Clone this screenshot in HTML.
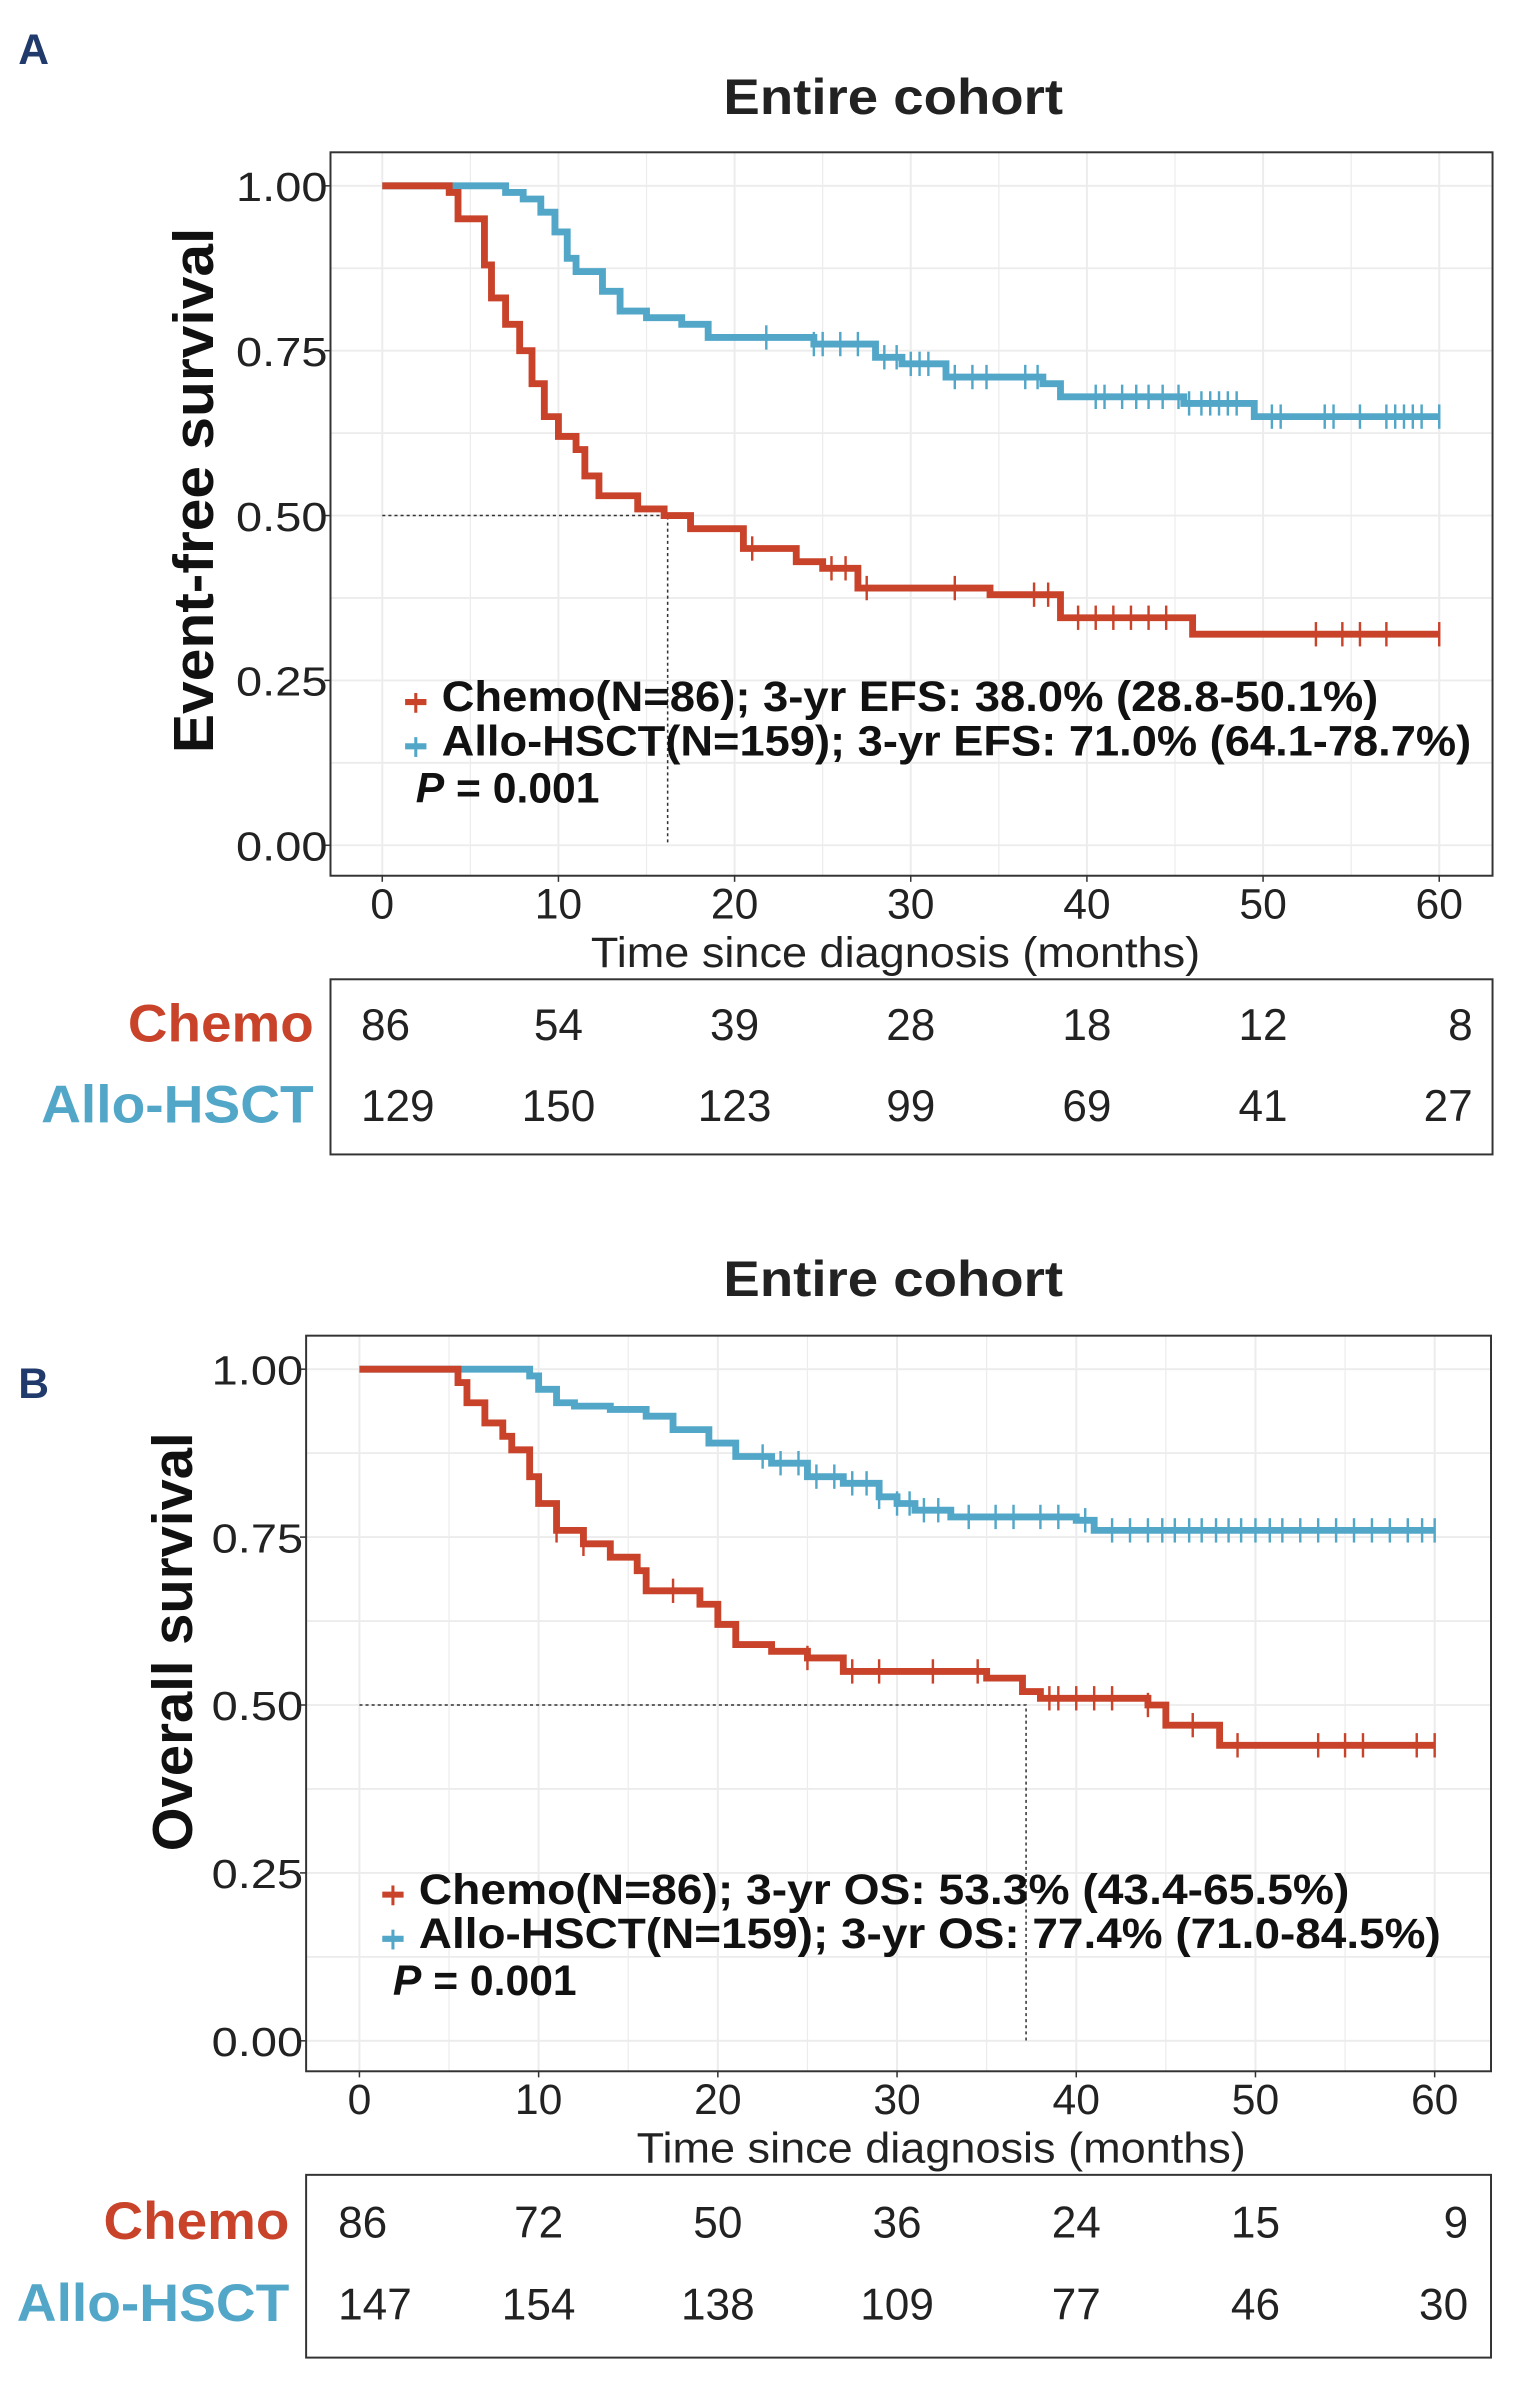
<!DOCTYPE html>
<html><head><meta charset="utf-8"><style>
html,body{margin:0;padding:0;background:#fff}
svg{display:block;font-family:"Liberation Sans",Arial,sans-serif}
</style></head><body>
<svg id="fig" width="1523" height="2405" viewBox="0 0 1000 1579.12"></svg>
<script>
const timeTicks=[0,10,20,30,40,50,60];
const survTicks=[0,0.25,0.5,0.75,1];
const survTickLabels=["0.00","0.25","0.50","0.75","1.00"];
// Panel A (EFS)
const efsChemoT=[0,3.8,4.3,5.8,6.2,7,7.8,8.5,9.2,10,11,11.5,12.3,14.5,16,17.5,20.5,23.5,25,27,34.5,38.5,46,60];
const efsChemoS=[1,0.99,0.95,0.88,0.83,0.79,0.75,0.70,0.65,0.62,0.60,0.56,0.53,0.51,0.50,0.48,0.45,0.43,0.42,0.39,0.38,0.345,0.32,0.32];
const efsAlloT=[0,7,8,9,9.8,10.5,11,12.5,13.5,15,17,18.5,24.5,28,29.5,32,37.5,38.5,45.5,49.5,60];
const efsAlloS=[1,0.99,0.98,0.96,0.93,0.89,0.87,0.84,0.81,0.80,0.79,0.77,0.76,0.74,0.73,0.71,0.70,0.68,0.67,0.65,0.65];
const efsChemoCens=[21,25.5,26.3,27.5,32.5,37,37.8,39.5,40.5,41.5,42.5,43.5,44.5,53,54.5,55.5,57,60];
const efsAlloCens=[21.8,24.5,25,26,27,28.5,29.2,30,30.5,31,32.5,33.5,34.3,36.5,37.2,40.5,41,42,42.8,43.5,44.3,45.2,45.8,46.5,47,47.5,48,48.5,50.5,51,53.5,54,55.5,57,57.5,58,58.5,59,60];
const efsMedian=16.2;
const efsChemoRisk=[86,54,39,28,18,12,8];
const efsAlloRisk=[129,150,123,99,69,41,27];
// Panel B (OS)
const osChemoT=[0,5.5,6,7,8,8.5,9.5,10,11,12.5,14,15.5,16,19,20,21,23,25,27,35,37,38,44,45,48,60];
const osChemoS=[1,0.98,0.95,0.92,0.90,0.88,0.84,0.80,0.76,0.74,0.72,0.70,0.67,0.65,0.62,0.59,0.58,0.57,0.55,0.54,0.52,0.51,0.50,0.47,0.44,0.44];
const osAlloT=[0,9.5,10,11,12,14,16,17.5,19.5,21,23,25,27,29,30,31,33,40,41,60];
const osAlloS=[1,0.99,0.97,0.95,0.945,0.94,0.93,0.91,0.89,0.87,0.86,0.84,0.83,0.81,0.80,0.79,0.78,0.775,0.76,0.76];
const osChemoCens=[11,12.5,17.5,25,27.5,29,32,34.5,38.5,39,40,41,42,44,46.5,49,53.5,55,56,59,60];
const osAlloCens=[22.5,23.5,24.5,25.5,26.5,27.5,28.3,29,30,30.7,31.5,32.3,34,35.5,36.5,38,39,40.5,42,43,44,44.8,45.5,46.3,47,47.8,48.5,49.2,50,50.8,51.5,52.5,53.5,54.5,55.5,56.5,57.5,58.5,59.3,60];
const osMedian=37.2;
const osChemoRisk=[86,72,50,36,24,15,9];
const osAlloRisk=[147,154,138,109,77,46,30];

const RED="#c9432b",BLUE="#52a7c9";
const svg=document.getElementById('fig');
const NS="http://www.w3.org/2000/svg";
function el(tag,attrs,parent,txt){const e=document.createElementNS(NS,tag);for(const k in attrs)e.setAttribute(k,attrs[k]);if(txt!==undefined)e.textContent=txt;(parent||svg).appendChild(e);return e;}

function panel(cfg){
  const g=el('g',{});
  
  
  const X=t=>cfg.x0+(cfg.x60-cfg.x0)*t/60;
  const Y=s=>cfg.y0+(cfg.y1-cfg.y0)*s;
  const lt=el('text',{x:12,y:cfg.letterY,'font-size':28,'font-weight':'bold',fill:'#1f3a6b'},g,cfg.letter);
  
  
  const tt=el('text',{x:475,y:cfg.titleY,'font-size':33,'font-weight':'bold',fill:'#222',textLength:223,lengthAdjust:'spacingAndGlyphs'},g,'Entire cohort');
  
  
  for(let t=0;t<=60;t+=5){el('line',{x1:X(t),x2:X(t),y1:cfg.by0,y2:cfg.by1,stroke:'#ececec','stroke-width':t%10?0.8:1.3},g);}
  for(let s=0;s<=1.0001;s+=0.125){el('line',{x1:cfg.bx0,x2:cfg.bx1,y1:Y(s),y2:Y(s),stroke:'#ececec','stroke-width':1.2},g);}
  const box=el('rect',{x:cfg.bx0,y:cfg.by0,width:cfg.bx1-cfg.bx0,height:cfg.by1-cfg.by0,fill:'none',stroke:'#333','stroke-width':1.3},g);
  
  
  survTicks.forEach((s,i)=>{
    el('line',{x1:cfg.bx0-4,x2:cfg.bx0,y1:Y(s),y2:Y(s),stroke:'#333'},g);
    const t=el('text',{x:cfg.bx0-2,y:Y(s)+10,'font-size':27,'text-anchor':'end',fill:'#222',textLength:60,lengthAdjust:'spacingAndGlyphs'},g,survTickLabels[i]);
    
    
  });
  timeTicks.forEach(tv=>{
    el('line',{x1:X(tv),x2:X(tv),y1:cfg.by1,y2:cfg.by1+4,stroke:'#333'},g);
    const t=el('text',{x:X(tv),y:cfg.by1+28,'font-size':28,'text-anchor':'middle',fill:'#222'},g,String(tv));
    
    
  });
  const xt=el('text',{x:cfg.xtX,y:cfg.by1+60,'font-size':28,fill:'#222',textLength:400,lengthAdjust:'spacingAndGlyphs'},g,'Time since diagnosis (months)');
  
  
  const yt=el('text',{x:0,y:0,'font-size':37,'font-weight':'bold','text-anchor':'middle',fill:'#111',textLength:cfg.ytLen,lengthAdjust:'spacingAndGlyphs',transform:`translate(${cfg.ytX},${cfg.ytC}) rotate(-90)`},g,cfg.ytitle);
  
  
  const med=el('path',{d:`M${X(0)},${Y(0.5)}H${X(cfg.median)}V${Y(0)}`,fill:'none',stroke:'#333','stroke-width':1,'stroke-dasharray':'2,2'},g);
  
  
  function curve(T,S,cens,color,name){
    let d=`M${X(T[0])},${Y(S[0])}`;
    for(let i=1;i<T.length;i++){d+=`H${X(T[i])}V${Y(S[i])}`;}
    const p=el('path',{d,fill:'none',stroke:color,'stroke-width':4.5},g);
    
    
    cens.forEach(c=>{
      let s=S[0];for(let i=0;i<T.length;i++){if(T[i]<=c)s=S[i];}
      const m=el('line',{x1:X(c),x2:X(c),y1:Y(s)-8,y2:Y(s)+8,stroke:color,'stroke-width':1.6},g);
      
      
    });
  }
  curve(cfg.aT,cfg.aS,cfg.aC,BLUE,'allo-hsct');
  curve(cfg.cT,cfg.cS,cfg.cC,RED,'chemo');
  const lg=el('g',{},g);
  
  
  [[RED,cfg.leg1,cfg.legY,cfg.len1],[BLUE,cfg.leg2,cfg.legY+29,cfg.len2]].forEach(([c,txt,y,len])=>{
    el('line',{x1:cfg.legX-7,x2:cfg.legX+7,y1:y-6,y2:y-6,stroke:c,'stroke-width':4},lg);
    el('line',{x1:cfg.legX,x2:cfg.legX,y1:y-12,y2:y+1,stroke:c,'stroke-width':2},lg);
    const t=el('text',{x:cfg.legX+17,y:y,'font-size':28,'font-weight':'bold',fill:'#111',textLength:len,lengthAdjust:'spacingAndGlyphs'},lg,txt);
    
    
  });
  const pv=el('text',{x:cfg.legX,y:cfg.legY+60,'font-size':28,'font-weight':'bold',fill:'#111'},lg);
  el('tspan',{'font-style':'italic'},pv,'P');
  el('tspan',{},pv,' = 0.001');
  
  
  const rt=el('g',{},g);
  
  
  el('rect',{x:cfg.bx0,y:cfg.ry0,width:cfg.bx1-cfg.bx0,height:cfg.ry1-cfg.ry0,fill:'none',stroke:'#333','stroke-width':1.3},rt);
  [[cfg.cR,'Chemo',RED,cfg.r1,122],[cfg.aR,'Allo-HSCT',BLUE,cfg.r2,179]].forEach(([vals,lab,c,y,len])=>{
    const l=el('text',{x:cfg.bx0-11-len,y:y+12,'font-size':35,'font-weight':'bold',fill:c,textLength:len,lengthAdjust:'spacingAndGlyphs'},rt,lab);
    
    
    vals.forEach((v,i)=>{
      const anchor=i===0?'start':(i===vals.length-1?'end':'middle');
      const xx=i===0?X(0)-14:(i===vals.length-1?X(60)+22:X(timeTicks[i]));
      const t=el('text',{x:xx,y:y+11,'font-size':29,'text-anchor':anchor,fill:'#222'},rt,String(v));
      
      
    });
  });
}
panel({name:'panel-a-efs',letter:'A',letterY:42,titleY:75,x0:251,x60:945,y0:555,y1:122,bx0:217,bx1:980,by0:100,by1:575,ytX:140,ytC:322,ytLen:345,ytitle:'Event-free survival',median:efsMedian,xtX:388,
  cT:efsChemoT,cS:efsChemoS,cC:efsChemoCens,aT:efsAlloT,aS:efsAlloS,aC:efsAlloCens,
  leg1:'Chemo(N=86); 3-yr EFS: 38.0% (28.8-50.1%)',leg2:'Allo-HSCT(N=159); 3-yr EFS: 71.0% (64.1-78.7%)',legX:273,legY:467,len1:615,len2:676,
  ry0:643,ry1:758,r1:672,r2:725,cR:efsChemoRisk,aR:efsAlloRisk});
panel({name:'panel-b-os',letter:'B',letterY:918,titleY:851,x0:236,x60:942,y0:1340,y1:899,bx0:201,bx1:979,by0:877,by1:1360,ytX:126,ytC:1078,ytLen:275,ytitle:'Overall survival',median:osMedian,xtX:418,
  cT:osChemoT,cS:osChemoS,cC:osChemoCens,aT:osAlloT,aS:osAlloS,aC:osAlloCens,
  leg1:'Chemo(N=86); 3-yr OS: 53.3% (43.4-65.5%)',leg2:'Allo-HSCT(N=159); 3-yr OS: 77.4% (71.0-84.5%)',legX:258,legY:1250,len1:611,len2:671,
  ry0:1428,ry1:1548,r1:1458,r2:1512,cR:osChemoRisk,aR:osAlloRisk});
</script>
</body></html>
